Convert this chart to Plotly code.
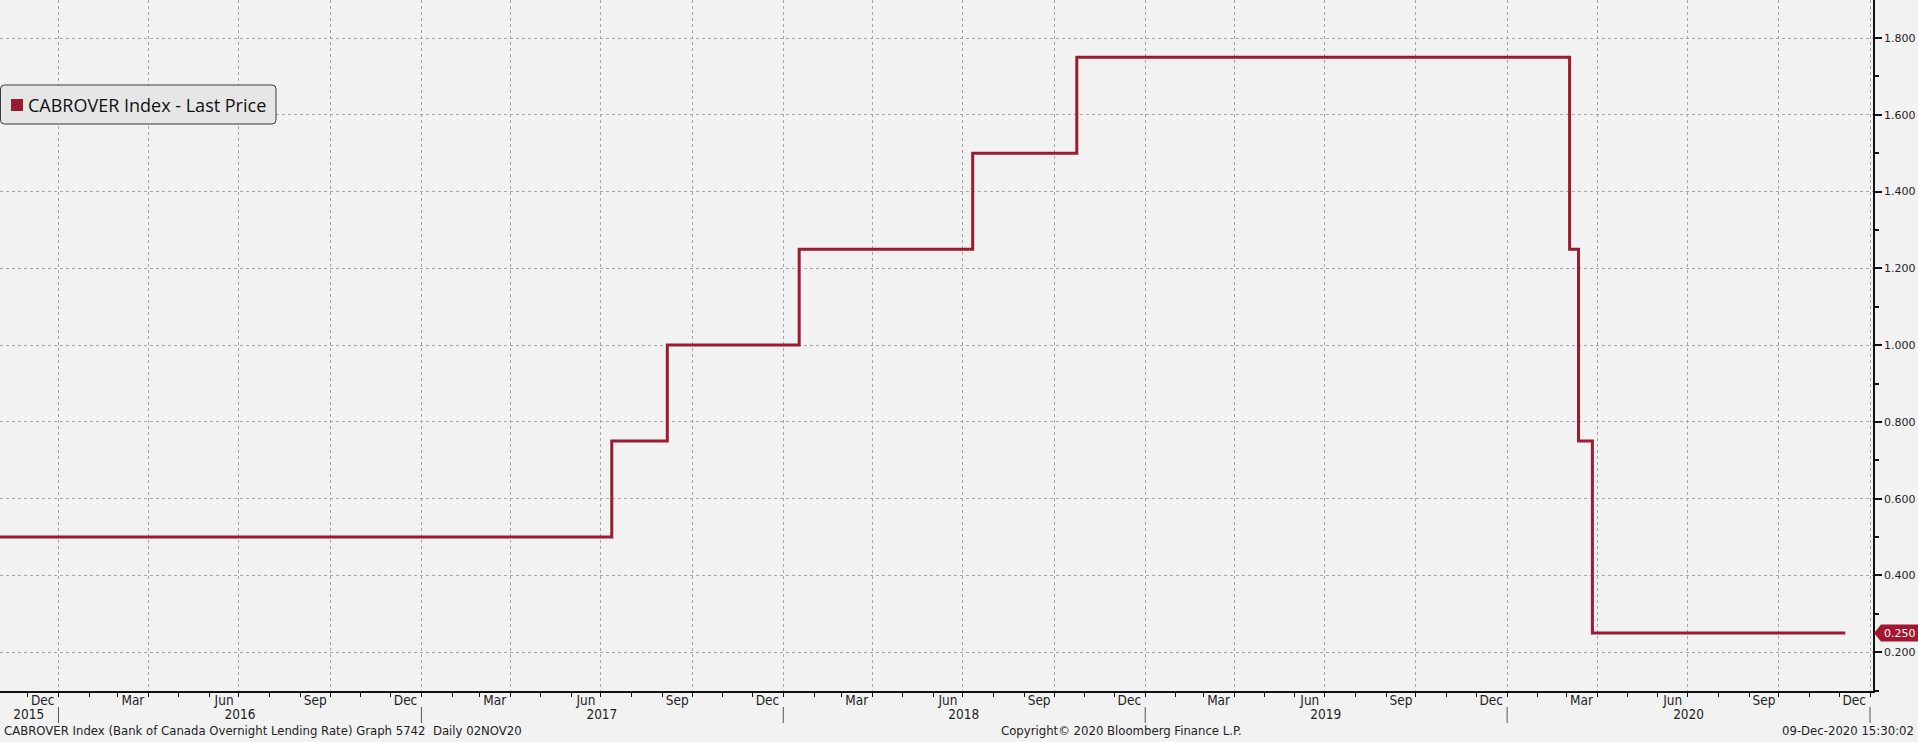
import plotly.graph_objects as go
import pandas as pd

# ---- data (Bank of Canada Bank Rate, CABROVER Index) ----
change_dates = ["2015-11-02", "2017-07-12", "2017-09-06", "2018-01-17", "2018-07-11",
                "2018-10-24", "2020-03-04", "2020-03-13", "2020-03-27", "2020-12-07"]
rates = [0.50, 0.75, 1.00, 1.25, 1.50, 1.75, 1.25, 0.75, 0.25, 0.25]

x_range = ["2015-11-03", "2021-01-04"]
y_range = [0.099, 1.899]

month_label_starts = ["2015-12-01", "2016-03-01", "2016-06-01", "2016-09-01", "2016-12-01",
                      "2017-03-01", "2017-06-01", "2017-09-01", "2017-12-01",
                      "2018-03-01", "2018-06-01", "2018-09-01", "2018-12-01",
                      "2019-03-01", "2019-06-01", "2019-09-01", "2019-12-01",
                      "2020-03-01", "2020-06-01", "2020-09-01", "2020-12-01"]
month_labels = ["Dec", "Mar", "Jun", "Sep", "Dec", "Mar", "Jun", "Sep", "Dec",
                "Mar", "Jun", "Sep", "Dec", "Mar", "Jun", "Sep", "Dec",
                "Mar", "Jun", "Sep", "Dec"]
years = ["2015", "2016", "2017", "2018", "2019", "2020"]
year_separators = ["2016-01-01", "2017-01-01", "2018-01-01", "2019-01-01", "2020-01-01", "2021-01-01"]

series_name = "CABROVER Index - Last Price"
footer_left = "CABROVER Index (Bank of Canada Overnight Lending Rate) Graph 5742  Daily 02NOV20"
footer_mid = "Copyright\u00a9 2020 Bloomberg Finance L.P."
footer_right = "09-Dec-2020 15:30:02"

# ---- styling ----
LINE = "#9b1b30"
BG = "#f2f2f2"
GRID = "#a6a6a6"
AX = "#111111"
TXT = "#222222"
NARROW = "Liberation Sans Narrow, DejaVu Sans Condensed, Arial Narrow, sans-serif"
W, H = 1918, 742
ML, MR, MT, MB = 0, 45, 0, 51
PW, PH = W - ML - MR, H - MT - MB


def px_x(p):
    return p / PW


def px_y(p):
    return 1 - p / PH


# label positions (derived from tick dates)
month_mid = [(pd.Timestamp(d) + pd.Timedelta(days=15)).strftime("%Y-%m-%d") for d in month_label_starts]
year_mid = []
for y in years:
    start = max(pd.Timestamp(f"{y}-01-01"), pd.Timestamp(x_range[0]))
    end = pd.Timestamp(f"{int(y) + 1}-01-01")
    year_mid.append((start + (end - start) / 2).strftime("%Y-%m-%d"))

fig = go.Figure()
fig.add_trace(go.Scatter(x=change_dates, y=rates, mode="lines",
                         line=dict(shape="hv", color=LINE, width=3),
                         showlegend=False, hoverinfo="skip"))
# invisible helpers so the label axes are rendered
fig.add_trace(go.Scatter(x=[change_dates[0]], y=[rates[0]], xaxis="x2", mode="markers",
                         marker=dict(opacity=0), showlegend=False, hoverinfo="skip"))
fig.add_trace(go.Scatter(x=[change_dates[0]], y=[rates[0]], xaxis="x3", mode="markers",
                         marker=dict(opacity=0), showlegend=False, hoverinfo="skip"))

fig.update_layout(
    width=W, height=H,
    margin=dict(l=ML, r=MR, t=MT, b=MB, pad=0),
    paper_bgcolor=BG, plot_bgcolor=BG,
    showlegend=False,
    xaxis=dict(type="date", range=x_range, tick0="2016-01-01", dtick="M3",
               ticks="outside", ticklen=4, tickcolor=AX, showticklabels=False,
               showgrid=True, gridcolor=GRID, griddash="dot", gridwidth=1,
               showline=True, linecolor=AX, linewidth=1.5, zeroline=False,
               minor=dict(dtick="M1", tick0="2016-01-01", ticks="outside", ticklen=4,
                          tickcolor=AX, showgrid=False)),
    xaxis2=dict(type="date", overlaying="x", matches="x", anchor="y", side="bottom",
                tickmode="array", tickvals=month_mid, ticktext=month_labels,
                ticks="", showgrid=False, showline=False, zeroline=False,
                tickfont=dict(family=NARROW, size=13.5, color=TXT), ticklabelstandoff=-1),
    xaxis3=dict(type="date", overlaying="x", matches="x", anchor="y", side="bottom",
                tickmode="array", tickvals=year_mid, ticktext=years,
                ticks="", showgrid=False, showline=False, zeroline=False,
                tickfont=dict(family=NARROW, size=13.5, color=TXT), ticklabelstandoff=13),
    yaxis=dict(side="right", range=y_range, tick0=0.2, dtick=0.2, tickformat=".3f",
               ticks="outside", ticklen=7, tickwidth=2, tickcolor=AX,
               showline=True, linecolor=AX, linewidth=1.5, zeroline=False,
               showgrid=True, gridcolor=GRID, griddash="dot", gridwidth=1,
               minor=dict(dtick=0.1, tick0=0.1, ticks="outside", ticklen=4,
                          tickcolor=AX, showgrid=False),
               tickfont=dict(family="DejaVu Sans", size=11, color=TXT)),
)

shapes = []
# year separators in the year-label row
for d in year_separators:
    shapes.append(dict(type="line", xref="x", yref="paper", x0=d, x1=d,
                       y0=px_y(PH + 16), y1=px_y(PH + 32),
                       line=dict(color="#555555", width=1)))

# legend box with rounded corners
bx0, bx1, by0, by1, r = 0.5, 276, 85, 124, 4
path = (f"M{px_x(bx0 + r)},{px_y(by0)} L{px_x(bx1 - r)},{px_y(by0)} "
        f"Q{px_x(bx1)},{px_y(by0)} {px_x(bx1)},{px_y(by0 + r)} "
        f"L{px_x(bx1)},{px_y(by1 - r)} Q{px_x(bx1)},{px_y(by1)} {px_x(bx1 - r)},{px_y(by1)} "
        f"L{px_x(bx0 + r)},{px_y(by1)} Q{px_x(bx0)},{px_y(by1)} {px_x(bx0)},{px_y(by1 - r)} "
        f"L{px_x(bx0)},{px_y(by0 + r)} Q{px_x(bx0)},{px_y(by0)} {px_x(bx0 + r)},{px_y(by0)} Z")
shapes.append(dict(type="path", xref="paper", yref="paper", path=path,
                   fillcolor="#e6e6e6", line=dict(color="#3a3a3a", width=1), layer="above"))
shapes.append(dict(type="rect", xref="paper", yref="paper",
                   x0=px_x(11), x1=px_x(23), y0=px_y(111), y1=px_y(99),
                   fillcolor=LINE, line=dict(width=0), layer="above"))

# last-price tag on the right axis
last = rates[-1]
shapes.append(dict(type="path", xref="paper", yref="y", xanchor=1, xsizemode="pixel",
                   yanchor=last, ysizemode="pixel",
                   path="M1,0 L8,8.5 L46,8.5 L46,-8.5 L8,-8.5 Z",
                   fillcolor="#a3172e", line=dict(width=0), layer="above"))

annotations = [
    dict(xref="paper", yref="paper", x=px_x(26), y=px_y(105), xanchor="left", yanchor="middle",
         text=series_name, showarrow=False,
         font=dict(family="Open Sans, Noto Sans, sans-serif", size=18, color="#111111")),
    dict(xref="paper", yref="y", x=1, y=last, xshift=9, xanchor="left", yanchor="middle",
         text=f"{last:.3f}", showarrow=False,
         font=dict(family="DejaVu Sans", size=11, color="#ffffff")),
    dict(xref="paper", yref="paper", x=px_x(2), y=px_y(PH + 39), xanchor="left", yanchor="middle",
         text=footer_left, showarrow=False, font=dict(family=NARROW, size=13, color=TXT)),
    dict(xref="paper", yref="paper", x=px_x(1121), y=px_y(PH + 39), xanchor="center", yanchor="middle",
         text=footer_mid, showarrow=False, font=dict(family=NARROW, size=13, color=TXT)),
    dict(xref="paper", yref="paper", x=px_x(W - 2), y=px_y(PH + 39), xanchor="right", yanchor="middle",
         text=footer_right, showarrow=False, font=dict(family=NARROW, size=13, color=TXT)),
]
fig.update_layout(shapes=shapes, annotations=annotations)

fig.write_html("out.html", config={"displayModeBar": False},
               post_script="document.body.style.margin='0';document.body.style.overflow='hidden';")
